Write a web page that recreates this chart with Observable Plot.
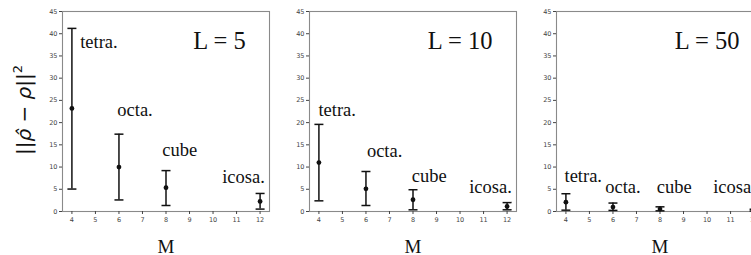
<!DOCTYPE html>
<html>
<head>
<meta charset="utf-8">
<script src="https://cdn.jsdelivr.net/npm/d3@7"></script>
<script src="https://cdn.jsdelivr.net/npm/@observablehq/plot@0.6"></script>
<style>
  html, body { margin: 0; padding: 0; background: #fff; }
  #wrap { position: relative; width: 751px; height: 255px; overflow: hidden; background: #fff; }
  .panel { position: absolute; top: 0; }
  .panel .serifText text { font-family: "Liberation Serif", "Times New Roman", "DejaVu Serif", serif !important; }
  #ylab { position: absolute; left: 24px; top: 110px; transform: translate(-50%, -50%) rotate(-90deg);
          font-family: "DejaVu Sans", sans-serif; font-size: 20px; white-space: nowrap; color: #111; }
  #ylab sup { font-size: 13px; vertical-align: 9px; line-height: 0; }
</style>
</head>
<body>
<div id="wrap">
  <div id="ylab">||<i>ρ̂</i> − <i>ρ</i>||<sup>2</sup></div>
</div>
<script>
// ---- data ----
const panelTitles = ["L = 5", "L = 10", "L = 50"];
const M = [4, 6, 8, 12];
const shapes = ["tetra.", "octa.", "cube", "icosa."];
const xTicks = [4, 5, 6, 7, 8, 9, 10, 11, 12];
const yTicks = [0, 5, 10, 15, 20, 25, 30, 35, 40, 45];

const mean5 = [23.2, 10.0, 5.35, 2.26];
const low5  = [5.05, 2.6, 1.35, 0.54];
const high5 = [41.2, 17.4, 9.2, 4.06];

const mean10 = [11.0, 5.1, 2.64, 1.13];
const low10  = [2.4, 1.35, 0.38, 0.38];
const high10 = [19.6, 9.0, 4.9, 2.0];

const mean50 = [2.1, 1.0, 0.55, 0.3];
const low50  = [0.3, 0.25, 0.15, 0.1];
const high50 = [4.0, 1.9, 1.05, 0.5];

// annotation anchors (data units)
const labX5  = [4.35, 5.93, 7.84, 10.39];
const labY5  = [36.8, 21.6, 12.6, 6.5];
const labX10 = [3.98, 6.04, 7.95, 10.39];
const labY10 = [21.6, 12.2, 6.7, 4.06];
const labX50 = [3.94, 5.67, 7.86, 10.26];
const labY50 = [6.7, 4.06, 4.06, 4.06];
const titleX = [9.16, 8.63, 8.63];
const titleY = [36.5, 36.5, 36.5];

// ---- build ----
const series = [
  {mean: mean5, low: low5, high: high5, lx: labX5, ly: labY5},
  {mean: mean10, low: low10, high: high10, lx: labX10, ly: labY10},
  {mean: mean50, low: low50, high: high50, lx: labX50, ly: labY50}
];
const frameLefts = [62.3, 309.3, 555.7];
const mL = 50, mR = 10, frameW = 207;

const capSymbol = {
  draw(ctx, size) {
    const r = Math.sqrt(size / Math.PI);
    ctx.moveTo(-r, 0);
    ctx.lineTo(r, 0);
  }
};

const serif = "Liberation Serif";
const wrap = document.getElementById("wrap");

series.forEach((s, i) => {
  const rows = M.map((m, k) => ({M: m, mean: s.mean[k], low: s.low[k], high: s.high[k],
                                  name: shapes[k], lx: s.lx[k], ly: s.ly[k]}));
  const chart = Plot.plot({
    width: mL + frameW + mR,
    height: 255,
    marginLeft: mL,
    marginRight: mR,
    marginTop: 11,
    marginBottom: 44,
    style: {background: "transparent", overflow: "visible"},
    x: {domain: [3.6, 12.4], ticks: xTicks, label: null},
    y: {domain: [0, 45], ticks: yTicks, label: null},
    marks: [
      Plot.frame({stroke: "#8a8a8a", strokeWidth: 1.1}),
      Plot.axisX({ticks: xTicks, tickSize: 3, tickPadding: 3, fontSize: 6.5,
                  fontFamily: "DejaVu Sans", color: "#444", label: null, tickFormat: d => d}),
      Plot.axisY({ticks: yTicks, tickSize: 3, tickPadding: 2, fontSize: 6.5,
                  fontFamily: "DejaVu Sans", color: "#444", label: null, tickFormat: d => d}),
      Plot.ruleX(rows, {x: "M", y1: "low", y2: "high", stroke: "#111", strokeWidth: 1.5}),
      Plot.dot(rows, {x: "M", y: "low", symbol: capSymbol, r: 4.5, stroke: "#111", strokeWidth: 1.5, fill: "none"}),
      Plot.dot(rows, {x: "M", y: "high", symbol: capSymbol, r: 4.5, stroke: "#111", strokeWidth: 1.5, fill: "none"}),
      Plot.dot(rows, {x: "M", y: "mean", r: 2.4, fill: "#111", stroke: "none"}),
      Plot.text(rows, {x: "lx", y: "ly", text: "name", textAnchor: "start", lineAnchor: "bottom",
                       fontSize: 18.5, fontFamily: serif, fill: "#111", className: "serifText"}),
      Plot.text([panelTitles[i]], {x: titleX[i], y: titleY[i], text: d => d, textAnchor: "start",
                       lineAnchor: "bottom", fontSize: 24.5, fontFamily: serif, fill: "#111", className: "serifText"}),
      Plot.text(["M"], {frameAnchor: "bottom", dy: 41, text: d => d, lineAnchor: "bottom",
                       fontSize: 19, fontFamily: serif, fill: "#111", className: "serifText"})
    ]
  });
  chart.classList.add("panel");
  chart.style.left = (frameLefts[i] - mL) + "px";
  wrap.appendChild(chart);
});
</script>
</body>
</html>
